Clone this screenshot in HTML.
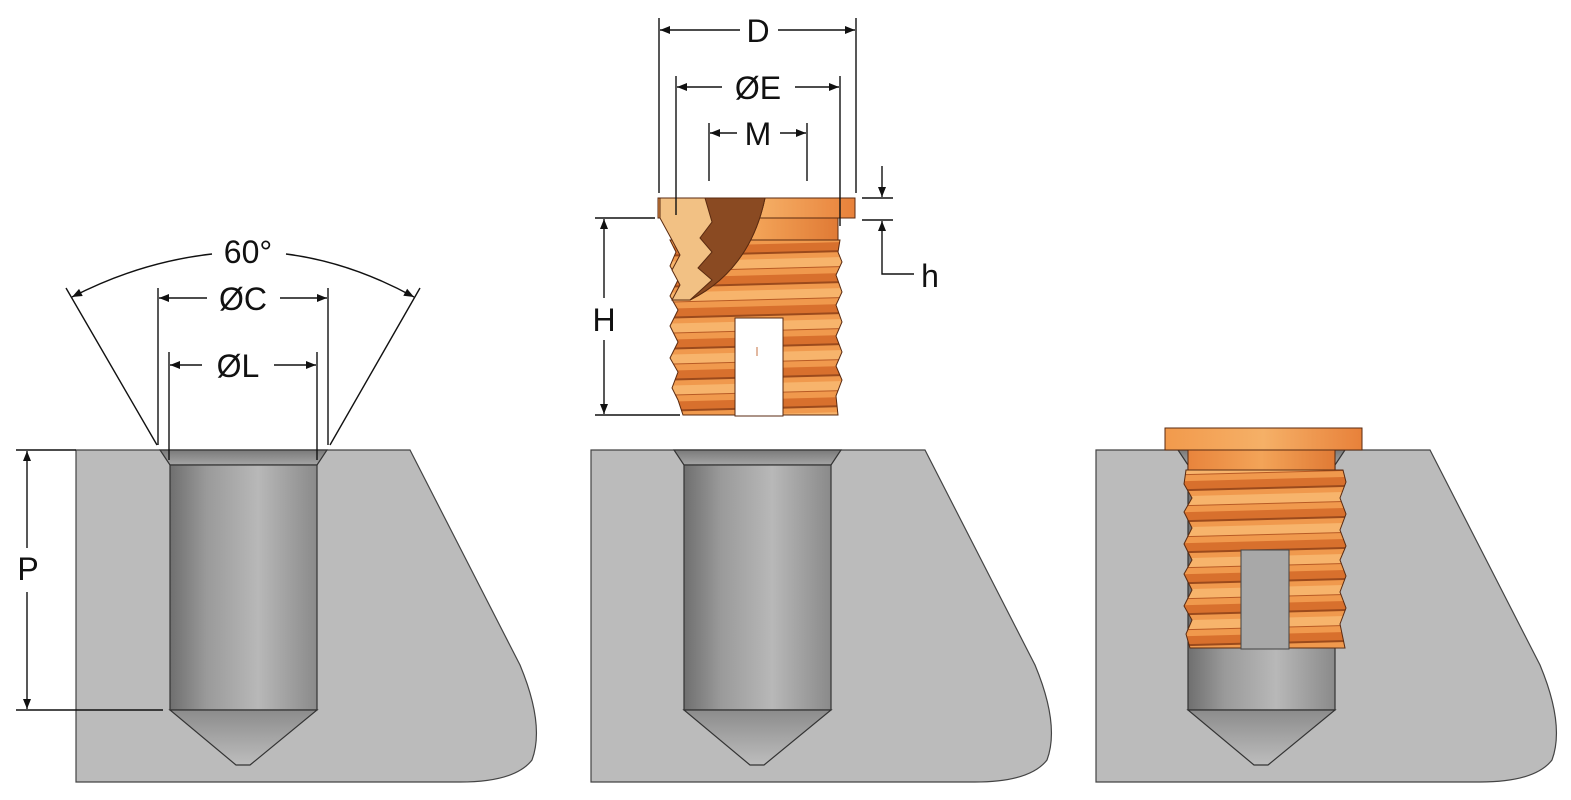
<!DOCTYPE html>
<html><head><meta charset="utf-8"><style>
html,body{margin:0;padding:0;background:#fff}
svg{display:block}
text{font-family:"Liberation Sans","DejaVu Sans",sans-serif;fill:#111}
</style></head><body>
<svg width="1571" height="800" viewBox="0 0 1571 800" xmlns="http://www.w3.org/2000/svg">
<defs>
<linearGradient id="hole" x1="0" x2="1" y1="0" y2="0">
<stop offset="0" stop-color="#6f6f6f"/><stop offset="0.25" stop-color="#9a9a9a"/><stop offset="0.6" stop-color="#b8b8b8"/><stop offset="1" stop-color="#8a8a8a"/></linearGradient>
<linearGradient id="cone" x1="0" x2="0" y1="0" y2="1">
<stop offset="0" stop-color="#8c8c8c"/><stop offset="1" stop-color="#bdbdbd"/></linearGradient>
<linearGradient id="cs" x1="0" x2="0" y1="0" y2="1">
<stop offset="0" stop-color="#7a7a7a"/><stop offset="1" stop-color="#a5a5a5"/></linearGradient>
<linearGradient id="flange" x1="0" x2="1" y1="0" y2="0">
<stop offset="0" stop-color="#f29a4c"/><stop offset="0.5" stop-color="#f5b067"/><stop offset="1" stop-color="#e8813a"/></linearGradient>
<linearGradient id="body" x1="0" x2="1" y1="0" y2="0">
<stop offset="0" stop-color="#e8843c"/><stop offset="0.5" stop-color="#f3a458"/><stop offset="1" stop-color="#e07a35"/></linearGradient>
<pattern id="thr" width="400" height="31" patternUnits="userSpaceOnUse" patternTransform="rotate(-1.5)">
<rect width="400" height="31" fill="#f0994d"/>
<rect y="0" width="400" height="9" fill="#f7b46c"/>
<rect y="16" width="400" height="8" fill="#d8702d"/>
<rect y="24" width="400" height="2" fill="#9b4a1c"/>
<rect y="9" width="400" height="1" fill="#b85a24"/>
</pattern>
<marker id="ar" viewBox="0 0 10 10" refX="10" refY="5" markerWidth="12" markerHeight="10" markerUnits="userSpaceOnUse" orient="auto-start-reverse"><path d="M0,1 L10,5 L0,9 Z" fill="#111"/></marker>
</defs>

<!-- blocks -->
<g stroke="#444" stroke-width="1.2" fill="#bbbbbb">
<path d="M76,450 L410,450 L520,665 Q545,725 532,760 Q515,782 460,782 L76,782 Z"/>
<path d="M591,450 L925,450 L1035,665 Q1060,725 1047,760 Q1030,782 975,782 L591,782 Z"/>
<path d="M1096,450 L1430,450 L1540,665 Q1565,725 1552,760 Q1535,782 1480,782 L1096,782 Z"/>
</g>

<!-- holes -->
<g stroke="#333" stroke-width="1.2">
<g>
<path d="M160,450 L327,450 L317,465 L170,465 Z" fill="url(#cs)"/>
<rect x="170" y="465" width="147" height="245" fill="url(#hole)"/>
<path d="M170,710 L317,710 L250,765 L236,765 Z" fill="url(#cone)"/>
</g>
<g transform="translate(514,0)">
<path d="M160,450 L327,450 L317,465 L170,465 Z" fill="url(#cs)"/>
<rect x="170" y="465" width="147" height="245" fill="url(#hole)"/>
<path d="M170,710 L317,710 L250,765 L236,765 Z" fill="url(#cone)"/>
</g>
<g transform="translate(1018,0)">
<path d="M160,450 L327,450 L317,465 L170,465 Z" fill="url(#cs)"/>
<rect x="170" y="465" width="147" height="245" fill="url(#hole)"/>
<path d="M170,710 L317,710 L250,765 L236,765 Z" fill="url(#cone)"/>
</g>
</g>

<!-- middle insert -->
<g stroke="#5a2a10" stroke-width="1">
<rect x="672" y="218" width="166" height="22" fill="url(#body)"/>
<path d="M670,240 L840,240 L838,252 L842,262 L836,275 L842,292 L836,305 L842,322 L836,336 L842,352 L836,366 L842,380 L836,396 L838,415 L683,415 L678,400 L672,388 L678,372 L670,358 L678,342 L670,326 L678,310 L670,296 L678,280 L670,266 L676,252 Z" fill="url(#thr)"/>
<rect x="658" y="198" width="197" height="20" fill="url(#flange)"/>
<path d="M660,198 L765,198 Q750,270 690,300 L672,300 L680,285 L672,270 L680,255 L672,240 L660,218 Z" fill="#f2c184"/>
<path d="M705,198 L765,198 Q750,270 690,300 L712,280 L698,268 L712,252 L700,238 L712,222 Z" fill="#8a4a22"/>
<rect x="735" y="318" width="48" height="98" fill="#fff"/>
<line x1="757" y1="347" x2="757" y2="356" stroke="#c47040"/>
</g>

<!-- right insert -->
<g stroke="#5a2a10" stroke-width="1">
<rect x="1188" y="450" width="147" height="22" fill="url(#body)"/>
<path d="M1186,470 L1343,470 L1346,482 L1340,498 L1346,514 L1340,530 L1346,546 L1340,560 L1346,576 L1340,592 L1346,608 L1340,624 L1345,648 L1190,648 L1186,634 L1192,620 L1184,606 L1192,590 L1184,574 L1192,560 L1184,544 L1192,528 L1184,512 L1192,498 L1184,484 Z" fill="url(#thr)"/>
<rect x="1241" y="550" width="48" height="99" fill="#a8a8a8" stroke="#444"/>
<rect x="1165" y="428" width="197" height="22" fill="url(#flange)"/>
</g>

<!-- dimension lines -->
<g stroke="#111" stroke-width="1.4" fill="none">
<!-- D -->
<line x1="659" y1="18" x2="659" y2="193"/><line x1="856" y1="18" x2="856" y2="193"/>
<line x1="740" y1="30" x2="660" y2="30" marker-end="url(#ar)"/><line x1="778" y1="30" x2="855" y2="30" marker-end="url(#ar)"/>
<!-- E -->
<line x1="676" y1="76" x2="676" y2="215"/><line x1="840" y1="76" x2="840" y2="226"/>
<line x1="722" y1="87" x2="677" y2="87" marker-end="url(#ar)"/><line x1="795" y1="87" x2="839" y2="87" marker-end="url(#ar)"/>
<!-- M -->
<line x1="709" y1="123" x2="709" y2="181"/><line x1="807" y1="123" x2="807" y2="181"/>
<line x1="737" y1="133" x2="710" y2="133" marker-end="url(#ar)"/><line x1="780" y1="133" x2="806" y2="133" marker-end="url(#ar)"/>
<!-- h -->
<line x1="862" y1="198" x2="893" y2="198"/><line x1="862" y1="220" x2="893" y2="220"/>
<line x1="882" y1="166" x2="882" y2="197" marker-end="url(#ar)"/>
<polyline points="914,274 882,274 882,221" marker-end="url(#ar)"/>
<!-- H -->
<line x1="595" y1="218" x2="655" y2="218"/><line x1="595" y1="415" x2="680" y2="415"/>
<line x1="604" y1="298" x2="604" y2="219" marker-end="url(#ar)"/><line x1="604" y1="340" x2="604" y2="414" marker-end="url(#ar)"/>
<!-- 60 -->
<line x1="66" y1="288" x2="157" y2="445"/><line x1="420" y1="288" x2="330" y2="445"/>
<path d="M212,254 Q140,262 72,297" marker-end="url(#ar)"/>
<path d="M286,254 Q350,262 414,297" marker-end="url(#ar)"/>
<!-- C -->
<line x1="158" y1="288" x2="158" y2="445"/><line x1="328" y1="288" x2="328" y2="445"/>
<line x1="207" y1="298" x2="159" y2="298" marker-end="url(#ar)"/><line x1="280" y1="298" x2="327" y2="298" marker-end="url(#ar)"/>
<!-- L -->
<line x1="169" y1="352" x2="169" y2="460"/><line x1="317" y1="352" x2="317" y2="460"/>
<line x1="202" y1="365" x2="170" y2="365" marker-end="url(#ar)"/><line x1="274" y1="365" x2="316" y2="365" marker-end="url(#ar)"/>
<!-- P -->
<line x1="16" y1="450" x2="76" y2="450"/><line x1="16" y1="710" x2="163" y2="710"/>
<line x1="27" y1="548" x2="27" y2="451" marker-end="url(#ar)"/><line x1="27" y1="592" x2="27" y2="709" marker-end="url(#ar)"/>
</g>

<g font-size="32" text-anchor="middle">
<text x="758" y="42">D</text>
<text x="758" y="99">ØE</text>
<text x="758" y="145">M</text>
<text x="930" y="287">h</text>
<text x="604" y="331">H</text>
<text x="248" y="263">60°</text>
<text x="243" y="310">ØC</text>
<text x="238" y="377">ØL</text>
<text x="28" y="580">P</text>
</g>
</svg>
</body></html>
